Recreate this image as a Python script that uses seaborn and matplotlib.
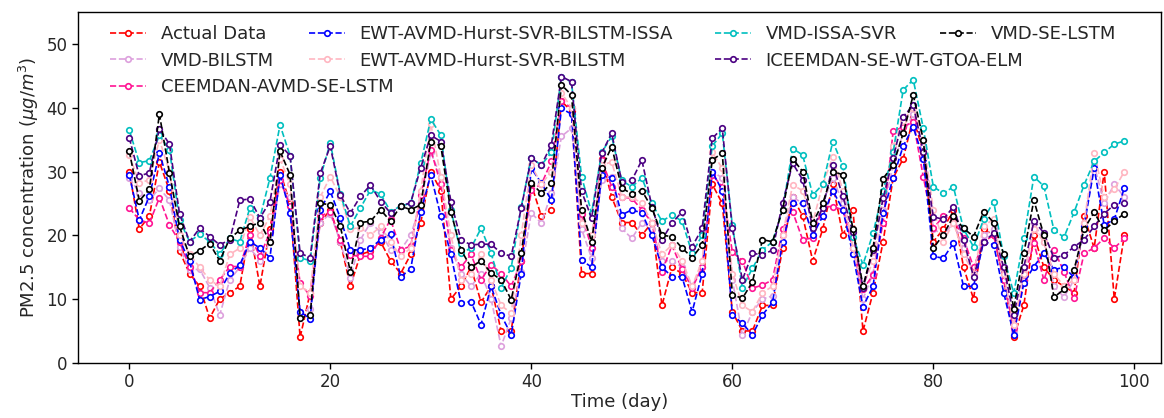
import numpy as np
import pandas as pd
import seaborn as sns
import matplotlib
matplotlib.use("Agg")
import matplotlib.pyplot as plt
from matplotlib.legend import Legend

days = list(range(100))

actual = [30, 21, 23, 31.5, 27, 17.5, 14, 12, 7, 10,
          11, 12, 21, 12, 21, 30, 25, 4, 11, 22,
          24, 19, 12, 17, 17.5, 19, 16, 14, 17, 22,
          30, 27, 10, 12, 15, 9.5, 12, 5, 5, 16,
          28, 23, 24, 41, 39.5, 14, 14, 32, 26, 22,
          22, 20, 22, 9, 15, 14, 11, 11, 28, 25,
          8, 5, 5, 9, 9, 18, 26, 23, 16, 21,
          28, 20, 24, 5, 11, 19, 29, 32, 38.5, 33,
          19, 21, 24, 15, 10, 21, 20, 13, 4, 9,
          20, 15, 13, 12, 11, 23, 18, 30, 10, 20]

ewt_issa = [29.5, 22.4, 26.1, 32.9, 27.6, 19.3, 15.9, 9.9, 10.4, 11.2,
            14.1, 15.3, 19, 18, 16.5, 29.5, 23.5, 8, 6.9, 24,
            26.9, 22.7, 17.7, 17.7, 18, 19.3, 20.2, 13.5, 14.7, 23.7,
            29.5, 23, 17, 9.4, 9.6, 6, 12, 7.5, 4.4, 14,
            30.5, 28.2, 25.5, 39.9, 39, 16.1, 15, 29.5, 29, 23.2,
            24, 23.5, 20, 15, 13.5, 13.5, 8, 14, 30, 27,
            7.5, 6.2, 4.4, 7.5, 9.5, 19, 25, 25, 20, 23,
            27, 24, 17, 8.8, 12, 23.5, 29, 34, 37, 32,
            16.7, 16.4, 18.8, 12, 12, 19, 18.5, 11, 4.4, 12.5,
            15.1, 17.2, 14.6, 15, 13.4, 21.5, 30.5, 21.6, 22.5, 27.4]

vmd_issa_svr = [36.5, 31.4, 31.7, 35.7, 33.4, 22.4, 19, 20.2, 19, 17,
                19.5, 19, 24.3, 22.7, 29, 37.3, 32.5, 16.5, 16, 29,
                34.5, 26.5, 21.4, 24.3, 27.1, 26.5, 23.7, 24.6, 25, 31.3,
                38.2, 35.7, 24, 17.2, 18, 21.1, 17.2, 11.8, 14.9, 24.5,
                32.1, 31, 33, 44.9, 44, 29.2, 23.5, 33, 35.5, 28.6,
                27.6, 29, 25, 22.2, 23.2, 22.2, 17.2, 20, 34, 36,
                21.6, 11.8, 14.8, 17.7, 19, 24, 33.6, 32.6, 26.3, 28,
                34.7, 30.9, 19.8, 15.4, 20.3, 27, 33, 42.8, 44.4, 36.8,
                27.6, 26.6, 27.6, 21, 18.2, 22.5, 25.3, 16.7, 10.9, 19.5,
                29.2, 27.7, 20.8, 19.7, 23.6, 27.9, 31.6, 33, 34.3, 34.8]

vmd_se_lstm = [33.2, 25.4, 27.2, 39, 29.8, 21.4, 16.7, 17.6, 18.7, 16,
               19.5, 20.8, 21.4, 22, 19, 33.2, 29.5, 7, 7.5, 25,
               24.8, 21.4, 14.3, 22, 22.2, 24, 22.2, 24.6, 24, 24.8,
               34.7, 34, 23.7, 17.7, 15, 16, 14.1, 13, 9.9, 17.2,
               28.2, 26.6, 28.2, 43.6, 42, 24, 19, 30.5, 33.9, 27.4,
               26.5, 27, 24.3, 20, 19.8, 18, 16.5, 18.5, 31.8, 32.9,
               10.7, 10.1, 12.7, 19.3, 19, 24, 32, 30, 22, 25,
               30, 29.5, 21, 12, 18, 28.9, 31, 36, 42, 35,
               18, 20.1, 23, 21.1, 19.8, 23.7, 22, 17, 8.5, 17.2,
               25.5, 20, 10.3, 11.5, 14.6, 21, 23.6, 20.8, 22.2, 23.4]

vmd_bilstm = [29, 26.7, 25.5, 27.4, 25.5, 18.2, 14.5, 14.7, 11.8, 7.5,
              13, 15, 18, 16, 19, 28, 26, 8, 8.5, 22,
              23.4, 19, 13.3, 19.3, 22, 20.5, 17.7, 17.7, 20, 25,
              33, 29.2, 18, 14, 12, 14, 10, 2.6, 7, 14.3,
              23.5, 21.9, 26.6, 35.5, 36.8, 21, 16.4, 28.6, 29.2, 21.1,
              19.5, 22, 21, 16, 16, 15, 12, 15, 30, 29,
              13, 4.4, 8, 10, 10.5, 20, 26, 25, 20, 25,
              29, 25, 18, 10, 14, 24, 31, 36, 39, 34,
              21, 20, 22, 18, 14, 20, 21, 13, 5, 13,
              22, 19, 12, 10.3, 13, 22, 31, 25, 28, 26]

ewt_bilstm = [32.6, 28.2, 28.7, 35, 30, 20, 17, 15, 13, 12,
              17, 18, 22.9, 20, 23, 32, 28, 12, 11, 26,
              29.2, 26, 21, 21.2, 20, 21.4, 19, 16.7, 18, 27,
              37.5, 29.2, 20, 13, 14, 17, 13, 9, 7.8, 20,
              31, 28, 30, 42.3, 40, 22, 20, 31, 31.5, 26,
              26, 25, 22, 17, 18.5, 16, 12, 16, 33, 30.5,
              14, 9, 8, 11, 12, 20, 27.9, 27, 22, 28,
              32.3, 27, 18, 12, 16, 26, 34, 38, 40, 35,
              24, 19, 22, 17, 14, 21.5, 22.5, 14, 6, 14,
              21, 19, 14, 12, 13, 22, 32.9, 26, 27.2, 30]

iceemdan = [35.3, 29.3, 29.8, 36.7, 34.3, 23.4, 19, 21.1, 19.8, 18.5,
            19.3, 25.5, 25.7, 22.7, 25.3, 34.2, 32.5, 17.2, 16.5, 29.7,
            34, 26.3, 23.5, 26.1, 27.9, 25.3, 23.5, 24.6, 25.1, 30.6,
            35.7, 34.7, 25.3, 19.3, 18.5, 18.6, 18.6, 17.2, 16.7, 24.3,
            32.1, 31, 34.2, 44.9, 44.1, 26.9, 22.7, 32.9, 36, 28.4,
            28.6, 31.8, 24.5, 19.3, 21.9, 23.7, 18.2, 21.1, 35.2, 36.8,
            21.1, 13, 17.2, 16.9, 17.7, 25, 31.3, 28.7, 21.1, 24.3,
            31, 26.1, 20.5, 11.7, 17.7, 25.8, 32.1, 38.6, 40.4, 33.1,
            22.9, 22.5, 24.5, 19.3, 13.5, 19, 20.3, 15, 7.5, 15,
            22.2, 20.4, 16.4, 16.9, 18.2, 19.3, 21.4, 23.4, 24.8, 25]

ceemdan = [24.3, 22.4, 21.9, 25.9, 21.6, 19, 15.1, 11, 11, 13,
           15.1, 15.1, 20, 16.7, 20.5, 28.7, 24.6, 12.5, 10.5, 23,
           23.7, 19.3, 16.9, 16.7, 16.7, 19.6, 22.5, 17.7, 18.3, 26.3,
           33.4, 28, 17.7, 15, 17, 13, 15.4, 14, 12, 15.9,
           27.1, 28, 31.6, 41, 40, 23.4, 18, 31.8, 27.6, 26,
           25.8, 24, 22, 14.3, 18.4, 14.7, 11.7, 15, 29.5, 27.6,
           17.4, 16, 11.7, 12.2, 13, 21, 23.7, 19.3, 19.6, 24.5,
           24.5, 24, 18, 11.5, 13.8, 22, 36.3, 37, 37.8, 29.2,
           21.1, 23, 22.5, 19.5, 15, 19, 20, 13, 5.5, 13,
           18.8, 13, 17.7, 14.3, 10.1, 17.2, 18, 19.6, 18, 19.5]

names = ["Actual Data", "VMD-BILSTM", "CEEMDAN-AVMD-SE-LSTM",
         "EWT-AVMD-Hurst-SVR-BILSTM-ISSA", "EWT-AVMD-Hurst-SVR-BILSTM",
         "VMD-ISSA-SVR", "ICEEMDAN-SE-WT-GTOA-ELM", "VMD-SE-LSTM"]
series = [actual, vmd_bilstm, ceemdan, ewt_issa, ewt_bilstm,
          vmd_issa_svr, iceemdan, vmd_se_lstm]
colors = ["#ff0000", "#dda0dd", "#ff1493", "#0000ff", "#ffb6c1",
          "#00bfbf", "#4b0082", "#000000"]

sns.set_theme(style="ticks")
plt.rcParams["font.family"] = ["DejaVu Sans"]
plt.rcParams["mathtext.fontset"] = "dejavusans"

fig = plt.figure(figsize=(11.64, 4.18), dpi=100)
ax = fig.add_axes([0.067, 0.132, 0.930, 0.839])

for name, vals, col in zip(names, series, colors):
    df = pd.DataFrame({"day": days, "value": vals})
    sns.lineplot(data=df, x="day", y="value", ax=ax, color=col,
                 linestyle="--", linewidth=1.2, marker="o", markersize=4,
                 markerfacecolor="white", markeredgecolor=col,
                 markeredgewidth=1.2, label=name, legend=False)

ax.set_xlim(-5.1, 102.6)
ax.set_ylim(0, 55)
ax.set_xticks([0, 20, 40, 60, 80, 100])
ax.set_yticks([0, 10, 20, 30, 40, 50])
ax.tick_params(labelsize=12, length=4, width=1, color="black")
ax.set_xlabel("Time (day)", fontsize=13, labelpad=1)
ax.set_ylabel(r"PM2.5 concentration ($\mu g/m^3$)", fontsize=13)
for sp in ax.spines.values():
    sp.set_color("black")
    sp.set_linewidth(1.0)

handles, labels = ax.get_legend_handles_labels()
hmap = dict(zip(labels, handles))
if ax.get_legend() is not None:
    ax.get_legend().remove()

columns = [
    (110, ["Actual Data", "VMD-BILSTM", "CEEMDAN-AVMD-SE-LSTM"]),
    (309, ["EWT-AVMD-Hurst-SVR-BILSTM-ISSA", "EWT-AVMD-Hurst-SVR-BILSTM"]),
    (715, ["VMD-ISSA-SVR", "ICEEMDAN-SE-WT-GTOA-ELM"]),
    (940, ["VMD-SE-LSTM"]),
]
for xpix, labs in columns:
    leg = Legend(ax, [hmap[l] for l in labs], labs, loc="upper left",
                 frameon=False, fontsize=13, handlelength=2.0,
                 handletextpad=0.8, labelspacing=0.48, borderaxespad=0,
                 borderpad=0,
                 bbox_to_anchor=(xpix / 1164, 1 - 25 / 418),
                 bbox_transform=fig.transFigure)
    ax.add_artist(leg)

fig.savefig("out.png", dpi=100)
